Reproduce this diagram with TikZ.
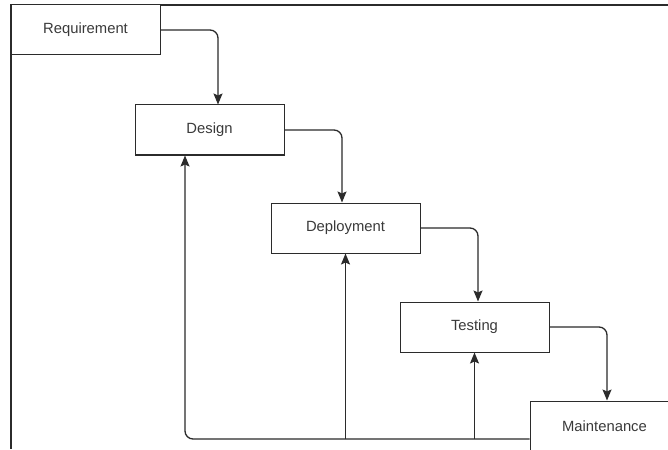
\documentclass[tikz,border=0pt]{standalone}
\usepackage{fontspec}
\setmainfont{Liberation Sans}
\usetikzlibrary{arrows.meta}
\definecolor{linec}{HTML}{2B2B2B}
\definecolor{textc}{HTML}{3A3A3A}
\begin{document}
\begin{tikzpicture}[x=1pt,y=-1pt,
  box/.style={draw=linec, line width=1pt, minimum width=149pt, minimum height=50pt, inner sep=0pt,
    font=\fontsize{14.8}{17}\selectfont, text=textc, fill=white},
  conn/.style={draw=linec, line width=1.3pt, rounded corners=8pt,
    -{Stealth[length=11pt,width=9pt,inset=2pt]}},
  branch/.style={draw=linec, line width=1.3pt, -{Stealth[length=11pt,width=9pt,inset=2pt]}}]
\useasboundingbox (0,0) rectangle (668,449);
\clip (0,0) rectangle (668,449);
\fill[white] (0,0) rectangle (668,449);
% frame
\draw[linec, line width=1.5pt] (668,5) -- (11,5) -- (11,449);
% nodes
\node[box] (req) at (85.5,30) {Requirement};
\node[box] (des) at (209.5,130) {Design};
\node[box] (dep) at (345.5,228) {Deployment};
\node[box] (tes) at (474.5,327) {Testing};
\node[box, minimum width=160pt] (mai) at (610,426) {\hspace*{-11pt}Maintenance};
% forward connectors
\draw[conn] (req.east) -| ([xshift=8.5pt]des.north);
\draw[conn] (des.east) -| ([xshift=-3.5pt]dep.north);
\draw[conn] (dep.east) -| ([xshift=3.5pt]tes.north);
\draw[conn] (tes.east) -| ([xshift=-3pt]mai.north);
% feedback connectors
\coordinate (base) at ([yshift=-13pt]mai.west);
\draw[conn] (base) -| ([xshift=-24.5pt]des.south);
\draw[branch] (dep.south |- base) -- (dep.south);
\draw[branch] (tes.south |- base) -- (tes.south);
\end{tikzpicture}
\end{document}
